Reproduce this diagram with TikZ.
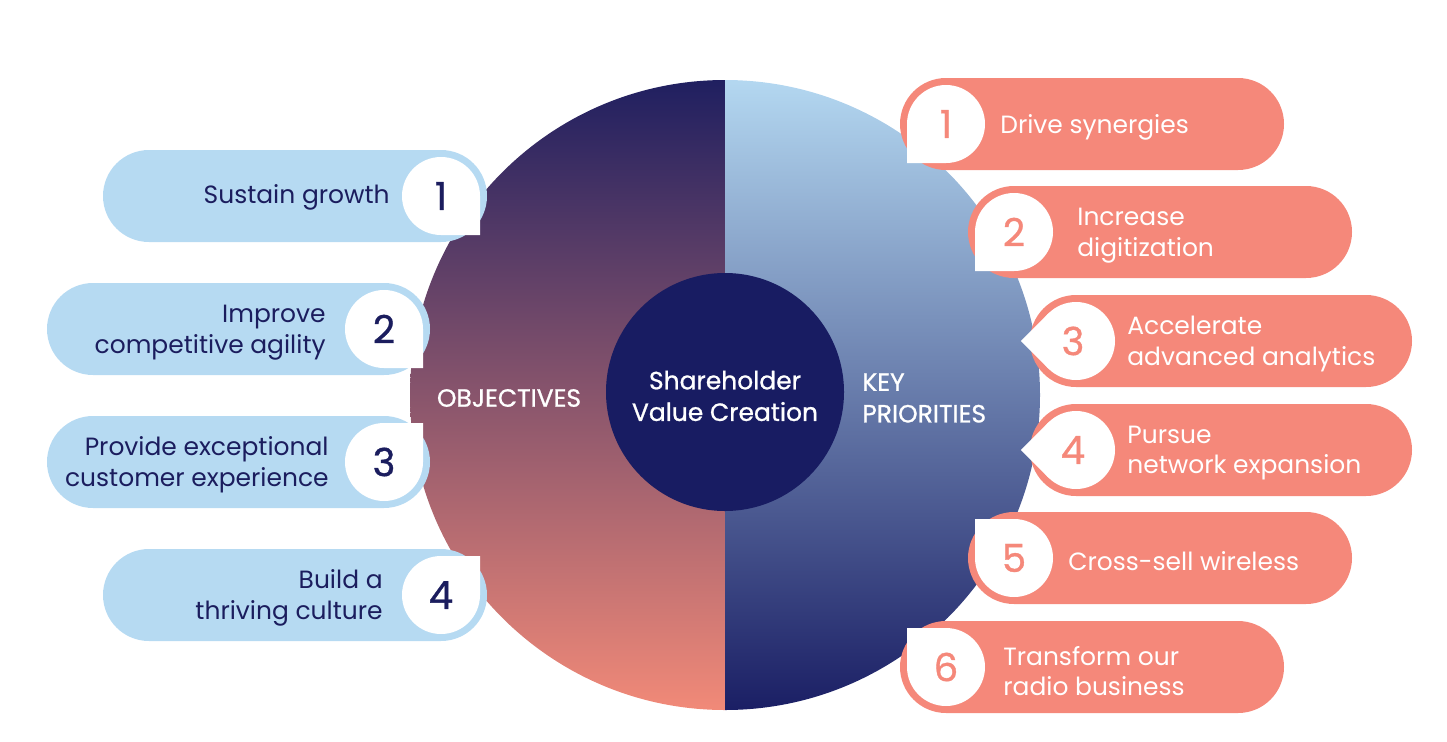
\documentclass[tikz,border=0pt]{standalone}
\usepackage{fontspec}
\setmainfont{Poppins}
\newfontfamily\medfont{Poppins}[FakeBold=0.9]
\definecolor{pillblue}{HTML}{B6DAF2}
\definecolor{pillsalmon}{HTML}{F5887A}
\definecolor{navy}{HTML}{1B1D5E}
\definecolor{deepnavy}{HTML}{181C62}
\definecolor{objtop}{HTML}{1F1F60}
\definecolor{objbottom}{HTML}{F28A78}
\definecolor{priotop}{HTML}{B4D8F1}
\definecolor{priobottom}{HTML}{1A1E64}
\tikzset{
  lefttext/.style={anchor=east, align=right, text=navy, inner sep=0pt,
    font=\fontsize{14.2}{17.5}\selectfont},
  righttext/.style={anchor=west, align=left, text=white, inner sep=0pt,
    font=\fontsize{14.2}{17.5}\selectfont},
  leftnum/.style={text=navy, font=\medfont\fontsize{22}{22}\selectfont},
  rightnum/.style={text=pillsalmon, font=\medfont\fontsize{22}{22}\selectfont},
  inlabel/.style={text=white, align=center, inner sep=0pt,
    font=\medfont\fontsize{14.2}{18}\selectfont},
}
\newcommand{\badge}[3]{%
  \fill[white] (#1,#2) circle (39);
  \fill[white, shift={(#1,#2)}] (0,0) -- (#3-45:39) -- (#3:55.15) -- (#3+45:39) -- cycle;
}
\begin{document}
\begin{tikzpicture}[x=0.02cm, y=-0.02cm]
    \useasboundingbox (0,0) rectangle (1447,741);
    % big circle
    \begin{scope}
        \clip (725,395) circle (315);
        \shade[top color=objtop, bottom color=objbottom] (405,78) rectangle (725,712);
        \shade[top color=priotop, bottom color=priobottom] (725,78) rectangle (1045,712);
    \end{scope}
    \fill[deepnavy] (725,392) circle (119);
    % pills
    \fill[pillblue, rounded corners=0.92cm] (103,150) rectangle (487,242);
    \fill[pillblue, rounded corners=0.92cm] (47,283) rectangle (430,375);
    \fill[pillblue, rounded corners=0.92cm] (47,416) rectangle (430,508);
    \fill[pillblue, rounded corners=0.92cm] (103,549) rectangle (487,641);
    \fill[pillsalmon, rounded corners=0.92cm] (900,78) rectangle (1284,170);
    \fill[pillsalmon, rounded corners=0.92cm] (968,186) rectangle (1352,278);
    \fill[pillsalmon, rounded corners=0.92cm] (1030,295) rectangle (1412,387);
    \fill[pillsalmon, rounded corners=0.92cm] (1030,404) rectangle (1412,496);
    \fill[pillsalmon, rounded corners=0.92cm] (968,512) rectangle (1352,604);
    \fill[pillsalmon, rounded corners=0.92cm] (900,621) rectangle (1284,713);
    % badges
    \badge{441}{196}{45}
    \badge{384}{329}{45}
    \badge{384}{462}{-45}
    \badge{441}{595}{-45}
    \badge{946}{124}{135}
    \badge{1014}{232}{135}
    \badge{1076}{341}{180}
    \badge{1076}{450}{180}
    \badge{1014}{558}{225}
    \badge{946}{667}{225}
    % numbers
    \node[leftnum] (lnum1) at (441,196) {1};
    \node[leftnum] (lnum2) at (384,329) {2};
    \node[leftnum] (lnum3) at (384,462) {3};
    \node[leftnum] (lnum4) at (441,595) {4};
    \node[rightnum] (rnum1) at (946,124) {1};
    \node[rightnum] (rnum2) at (1014,232) {2};
    \node[rightnum] (rnum3) at (1073,341) {3};
    \node[rightnum] (rnum4) at (1073,450) {4};
    \node[rightnum] (rnum5) at (1014,558) {5};
    \node[rightnum] (rnum6) at (946,667) {6};
    % texts
    \node[lefttext] (obj1) at (390,197) {Sustain growth};
    \node[lefttext] (obj2) at (326,333) {Improve\\competitive agility};
    \node[lefttext] (obj3) at (329,465) {Provide exceptional\\customer experience};
    \node[lefttext] (obj4) at (383,598) {Build a\\thriving culture};
    \node[righttext] (prio1) at (1000,127) {Drive synergies};
    \node[righttext] (prio2) at (1077,236) {Increase\\digitization};
    \node[righttext] (prio3) at (1127,344) {Accelerate\\advanced analytics};
    \node[righttext] (prio4) at (1127,453) {Pursue\\network expansion};
    \node[righttext] (prio5) at (1068,561) {Cross-sell wireless};
    \node[righttext] (prio6) at (1003,671) {Transform our\\radio business};
    \node[inlabel] (centre) at (725,396) {Shareholder\\Value Creation};
    \node[inlabel] (objectives) at (509,398) {OBJECTIVES};
    \node[inlabel, align=left, anchor=west] (priorities) at (862,398) {KEY\\PRIORITIES};
\end{tikzpicture}
\end{document}
